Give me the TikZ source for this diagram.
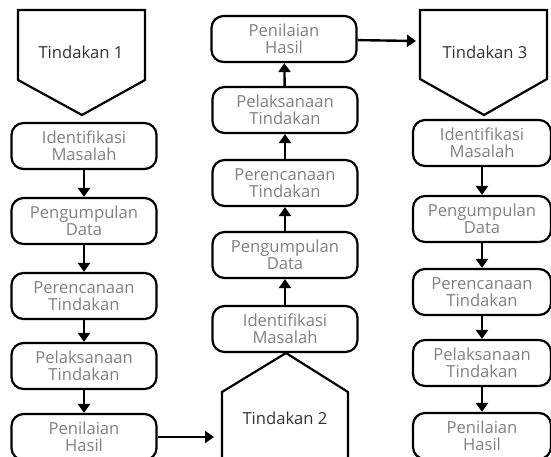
\documentclass[tikz,border=0pt]{standalone}
\usepackage{fontspec}
\setmainfont{Open Sans}
\usetikzlibrary{arrows.meta, positioning}
\definecolor{boxtext}{HTML}{808080}
\definecolor{headtext}{HTML}{333333}
\tikzset{
  stage/.style={draw, rounded corners=12pt, line width=2.2pt, minimum height=46pt, inner sep=0pt,
    align=center, text=boxtext, font=\fontsize{16.6}{16.8}\selectfont},
  head/.style={text=headtext, font=\fontsize{16.6}{17}\selectfont},
  flow/.style={line width=2.4pt, -{Triangle[length=9pt, width=12pt]}},
  pent/.style={line width=2.2pt, line join=miter},
}

\begin{document}
\begin{tikzpicture}[x=1pt, y=-1pt]
        \useasboundingbox (0,0) rectangle (551,457);

        % Pentagons
        \draw[pent] (18,10) -- (145,10) -- (145,80) -- (82,115) -- (18,80) -- cycle;
        \draw[pent] (222,470) -- (222,392) -- (286,353) -- (348,392) -- (348,470);
        \draw[pent] (420,10) -- (547,10) -- (547,79) -- (484,115) -- (420,79) -- cycle;
        \node[head] (t1) at (81,52) {Tindakan 1};
        \node[head] (t2) at (285,418) {Tindakan 2};
        \node[head] (t3) at (485,52) {Tindakan 3};
        \coordinate (t2in) at (214,437);
        \coordinate (t3in) at (416,41);

        % Nodes
        \node[stage, minimum width=145pt] (i1) at (84,146) {Identifikasi\\Masalah};
        \node[stage, minimum width=145pt] (p1) at (84,221) {Pengumpulan\\Data};
        \node[stage, minimum width=145pt] (r1) at (84,296) {Perencanaan\\Tindakan};
        \node[stage, minimum width=145pt] (l1) at (84,366) {Pelaksanaan\\Tindakan};
        \node[stage, minimum width=145pt] (n1) at (84,437) {Penilaian\\Hasil};

        \node[stage, minimum width=145pt] (i2) at (285,329) {Identifikasi\\Masalah};
        \node[stage, minimum width=145pt] (p2) at (285,255) {Pengumpulan\\Data};
        \node[stage, minimum width=145pt] (r2) at (285,183) {Perencanaan\\Tindakan};
        \node[stage, minimum width=145pt] (l2) at (285,110) {Pelaksanaan\\Tindakan};
        \node[stage, minimum width=145pt] (n2) at (284,39) {Penilaian\\Hasil};

        \node[stage, minimum width=138pt] (i3) at (482,143) {Identifikasi\\Masalah};
        \node[stage, minimum width=138pt] (p3) at (482,219) {Pengumpulan\\Data};
        \node[stage, minimum width=138pt] (r3) at (482,292) {Perencanaan\\Tindakan};
        \node[stage, minimum width=138pt] (l3) at (482,363) {Pelaksanaan\\Tindakan};
        \node[stage, minimum width=138pt] (n3) at (482,436) {Penilaian\\Hasil};

        % Directed edges
        \draw[flow] (i1) -- (p1);
        \draw[flow] (p1) -- (r1);
        \draw[flow] (r1) -- (l1);
        \draw[flow] (l1) -- (n1);
        \draw[flow] (n1) -- (t2in);

        \draw[flow] (i2) -- (p2);
        \draw[flow] (p2) -- (r2);
        \draw[flow] (r2) -- (l2);
        \draw[flow] (l2) -- (n2);
        \draw[flow] (n2) -- (t3in);

        \draw[flow] (i3) -- (p3);
        \draw[flow] (p3) -- (r3);
        \draw[flow] (r3) -- (l3);
        \draw[flow] (l3) -- (n3);
    \end{tikzpicture}
\end{document}
